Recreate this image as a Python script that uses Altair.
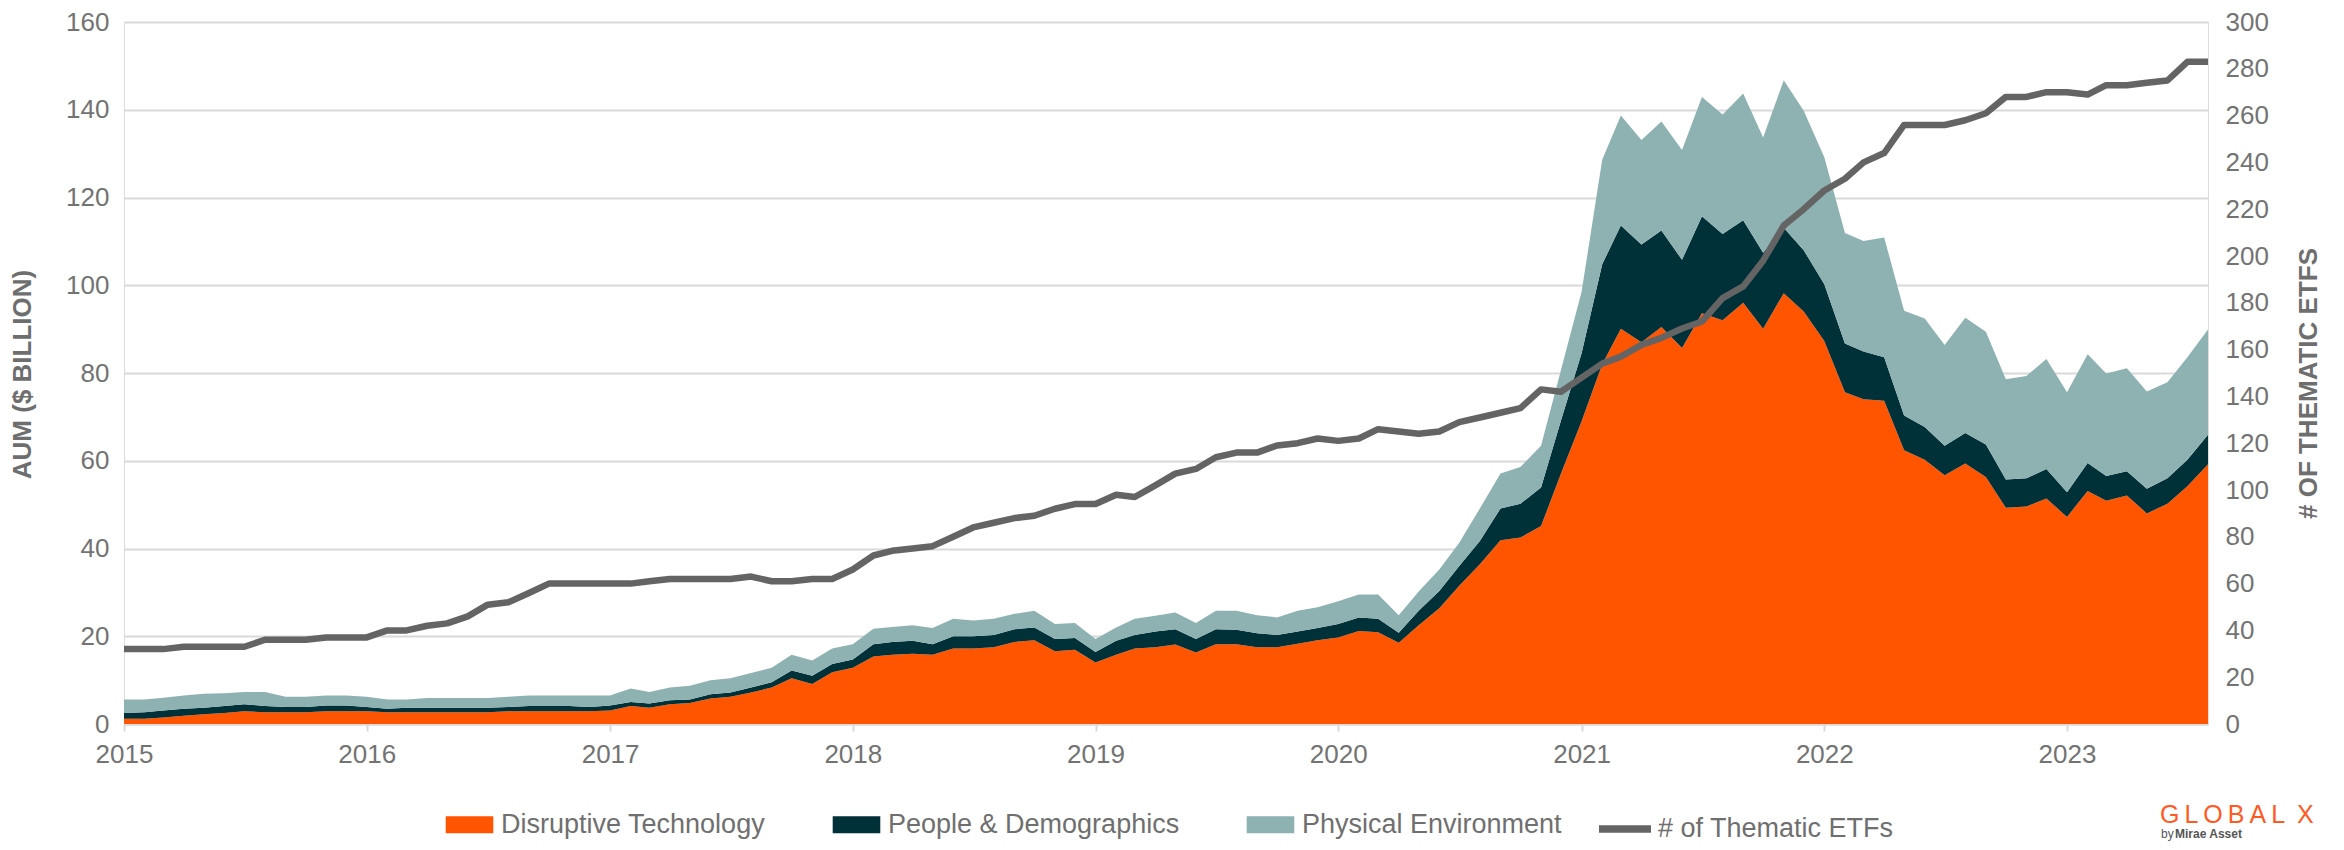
import altair as alt
import pandas as pd

# ---------------- data ----------------
months = pd.date_range("2015-01-01", periods=104, freq="MS").strftime("%Y-%m-%d").tolist()

series_names = ["Disruptive Technology", "People & Demographics", "Physical Environment"]
series_colors = ["#FF5400", "#003038", "#8EB1B1"]
line_name = "# of Thematic ETFs"

disruptive = [
    1.2, 1.2, 1.5, 1.9, 2.2, 2.5, 2.9, 2.7, 2.7, 2.7, 2.9, 2.9,
    2.9, 2.7, 2.7, 2.7, 2.7, 2.7, 2.7, 2.9, 2.9, 2.9, 2.9, 2.9,
    3.1, 4.1, 3.7, 4.5, 4.8, 5.8, 6.2, 7.2, 8.3, 10.4, 9.1, 11.8,
    12.8, 15.4, 15.8, 16.0, 15.8, 17.2, 17.2, 17.5, 18.7, 19.1, 16.6, 16.9,
    14.0, 15.8, 17.2, 17.5, 18.1, 16.3, 18.2, 18.2, 17.5, 17.5, 18.3, 19.1,
    19.7, 21.2, 20.9, 18.5, 22.5, 26.4, 31.5, 36.4, 41.9, 42.5, 45.1, 57.1,
    69.0, 82.0, 90.1, 87.0, 90.5, 85.7, 93.6, 92.0, 96.0, 90.1, 98.2, 94.0,
    87.3, 75.6, 74.0, 73.7, 62.4, 60.2, 56.7, 59.4, 56.3, 49.3, 49.6, 51.4,
    47.2, 53.1, 50.9, 52.1, 48.0, 50.2, 54.2, 59.2,
]
people = [
    1.3, 1.5, 1.6, 1.6, 1.5, 1.6, 1.6, 1.4, 1.2, 1.2, 1.3, 1.3,
    1.0, 0.8, 1.0, 1.0, 1.0, 1.0, 1.0, 1.0, 1.2, 1.2, 1.2, 1.0,
    1.1, 0.9, 1.0, 0.9, 0.8, 1.0, 1.0, 1.1, 1.2, 1.8, 1.9, 1.9,
    1.9, 2.8, 2.9, 3.0, 2.4, 2.8, 2.8, 2.8, 2.9, 2.9, 2.8, 2.7,
    2.4, 3.2, 3.1, 3.6, 3.5, 3.1, 3.4, 3.3, 3.2, 2.8, 2.8, 2.8,
    3.1, 3.1, 3.1, 2.3, 3.3, 3.9, 4.5, 5.3, 7.2, 7.7, 8.8, 12.1,
    15.5, 22.8, 23.5, 22.3, 22.0, 20.1, 22.1, 19.7, 18.8, 17.3, 14.9, 14.0,
    12.9, 11.1, 10.9, 9.9, 7.9, 7.5, 6.7, 6.9, 7.4, 6.4, 6.4, 6.7,
    5.6, 6.4, 5.6, 5.5, 5.6, 5.8, 6.0, 6.7,
]
physical = [
    3.1, 2.9, 2.9, 3.0, 3.2, 2.9, 2.8, 3.2, 2.3, 2.3, 2.3, 2.3,
    2.3, 2.1, 1.9, 2.2, 2.2, 2.2, 2.2, 2.3, 2.4, 2.4, 2.4, 2.6,
    2.3, 3.1, 2.6, 2.9, 3.1, 3.2, 3.2, 3.3, 3.3, 3.6, 3.5, 3.5,
    3.5, 3.5, 3.4, 3.5, 3.7, 4.0, 3.6, 3.7, 3.5, 3.8, 3.4, 3.4,
    3.0, 3.0, 3.7, 3.6, 3.8, 3.6, 4.2, 4.3, 4.1, 4.0, 4.7, 4.7,
    5.2, 5.2, 5.5, 4.0, 4.4, 4.9, 5.3, 7.4, 8.0, 8.4, 9.5, 11.5,
    14.0, 23.8, 25.1, 23.8, 24.8, 25.0, 27.2, 27.2, 28.9, 26.3, 33.6, 31.8,
    29.0, 25.2, 25.2, 27.3, 23.9, 24.7, 23.0, 26.3, 25.7, 22.9, 23.3, 25.1,
    22.8, 24.8, 23.4, 23.5, 22.2, 21.9, 23.4, 24.0,
]
etfs = [
    32, 32, 32, 33, 33, 33, 33, 36, 36, 36, 37, 37,
    37, 40, 40, 42, 43, 46, 51, 52, 56, 60, 60, 60,
    60, 60, 61, 62, 62, 62, 62, 63, 61, 61, 62, 62,
    66, 72, 74, 75, 76, 80, 84, 86, 88, 89, 92, 94,
    94, 98, 97, 102, 107, 109, 114, 116, 116, 119, 120, 122,
    121, 122, 126, 125, 124, 125, 129, 131, 133, 135, 143, 142,
    148, 154, 157, 162, 165, 169, 172, 182, 187, 198, 213, 220,
    228, 233, 240, 244, 256, 256, 256, 258, 261, 268, 268, 270,
    270, 269, 273, 273, 274, 275, 283, 283,
]
year_ticks = list(range(2015, 2024))
left_ticks = list(range(0, 161, 20))
right_ticks = list(range(0, 301, 20))

# ---------------- tables ----------------
rows = []
for k, (name, vals) in enumerate(zip(series_names, [disruptive, people, physical])):
    for d, v in zip(months, vals):
        rows.append({"date": d, "series": name, "ord": k, "value": v})
area_df = pd.DataFrame(rows)
line_df = pd.DataFrame({"date": months, "etfs": etfs, "name": line_name})

FONT = "Liberation Sans"
LABEL = "#737373"
TITLE = "#6E6E6E"

x_enc = alt.X(
    "date:T",
    scale=alt.Scale(
        type="utc",
        domain=[alt.DateTime(year=2015, month=1, date=1, utc=True),
                alt.DateTime(year=2023, month=8, date=1, utc=True)],
    ),
    axis=alt.Axis(
        values=[alt.DateTime(year=y, month=1, date=1, utc=True) for y in year_ticks],
        format="%Y", formatType="utc", grid=False, title=None, labelFlush=False,
        domain=True, domainColor="#D9D9D9", domainWidth=2,
        ticks=True, tickColor="#D9D9D9", tickWidth=2, tickSize=7,
        labelPadding=10, labelFontSize=26, labelColor=LABEL, labelFont=FONT,
    ),
)

rect_path = "M-2.8,-1H2.8V1H-2.8Z"

areas = alt.Chart(area_df).mark_area(interpolate="linear").encode(
    x=x_enc,
    y=alt.Y(
        "value:Q", stack="zero",
        scale=alt.Scale(domain=[0, 160], nice=False),
        axis=alt.Axis(
            orient="left", values=left_ticks, grid=True, gridColor="#D9D9D9", gridWidth=2,
            domain=False, ticks=False, labelPadding=15,
            labelFontSize=26, labelColor=LABEL, labelFont=FONT,
            title="AUM ($ BILLION)", titleFont=FONT, titleFontSize=26, titleFontWeight="bold",
            titleColor=TITLE, titleAngle=270, titleX=-102, titleY=352,
            titleAlign="center", titleBaseline="middle",
        ),
    ),
    color=alt.Color(
        "series:N",
        scale=alt.Scale(domain=series_names, range=series_colors),
        legend=alt.Legend(
            orient="none", legendX=332, legendY=789, direction="horizontal", title=None,
            symbolType=rect_path, symbolSize=289, symbolStrokeWidth=0, symbolOpacity=1,
            labelOffset=18, columnPadding=66, labelFontSize=27, labelColor="#6F6F6F",
            labelFont=FONT, labelLimit=0,
        ),
    ),
    order=alt.Order("ord:Q", sort="ascending"),
)

line = alt.Chart(line_df).mark_line(strokeWidth=6.5, strokeJoin="round").encode(
    x=alt.X("date:T"),
    y=alt.Y(
        "etfs:Q",
        scale=alt.Scale(domain=[0, 300], nice=False),
        axis=alt.Axis(
            orient="right", values=right_ticks, grid=False, domain=False, ticks=False,
            labelPadding=17, labelFontSize=26, labelColor=LABEL, labelFont=FONT,
            title="# OF THEMATIC ETFS", titleFont=FONT, titleFontSize=26, titleFontWeight="bold",
            titleColor=TITLE, titleAngle=270, titleX=100, titleY=361,
            titleAlign="center", titleBaseline="middle",
        ),
    ),
    stroke=alt.Stroke(
        "name:N",
        scale=alt.Scale(domain=[line_name], range=["#646464"]),
        legend=alt.Legend(
            orient="none", legendX=1471, legendY=777, title=None,
            symbolType="stroke", symbolSize=2704, symbolStrokeWidth=7.5,
            labelOffset=3, labelFontSize=27, labelColor="#6F6F6F", labelFont=FONT,
            labelLimit=0,
        ),
    ),
)

logo_df = pd.DataFrame({"t": [0]})
logo1 = alt.Chart(logo_df).mark_text(
    text="G\u2009L\u2009O\u2009B\u2009A\u2009L\u2009 X", font=FONT, fontSize=25,
    color="#FF5A1F", align="left", baseline="alphabetic",
).encode(x=alt.value(2036), y=alt.value(801))
logo2 = alt.Chart(logo_df).mark_text(
    text="by", font=FONT, fontSize=12, color="#555555", align="left", baseline="alphabetic",
).encode(x=alt.value(2037), y=alt.value(816))
logo3 = alt.Chart(logo_df).mark_text(
    text="Mirae Asset", font=FONT, fontSize=12, fontWeight="bold", color="#555555",
    align="left", baseline="alphabetic",
).encode(x=alt.value(2051), y=alt.value(816))

chart = (
    alt.layer(areas, line, logo1, logo2, logo3)
    .resolve_scale(y="independent")
    .properties(
        width=2084, height=702,
        autosize=alt.AutoSizeParams(type="none"),
        padding={"left": 116, "top": 14, "right": 128, "bottom": 118},
    )
    .configure_view(stroke=None)
    .configure(font=FONT)
)

chart.save("out.html", embed_options={"renderer": "svg", "actions": False})
